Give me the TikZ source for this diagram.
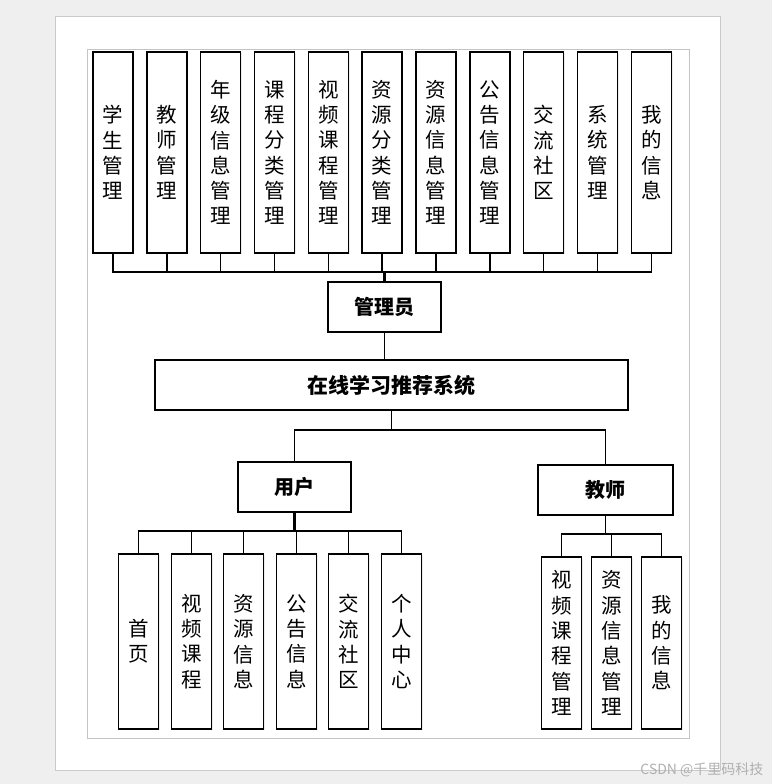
\documentclass[tikz,border=0pt]{standalone}
\usepackage{fontspec}
\setmainfont{Noto Sans CJK SC}
\usetikzlibrary{positioning,shadows}
\definecolor{deskgray}{HTML}{EFEFEF}
\definecolor{pageline}{HTML}{CACACA}
\definecolor{frameline}{HTML}{C4C4C4}
\definecolor{glow}{HTML}{A9B6CC}
\definecolor{marktext}{HTML}{B0B0B0}

\begin{document}
\begin{tikzpicture}[x=1pt,y=-1pt,
  conn/.style={line width=1.2pt, color=black},
  trunk/.style={line width=2.4pt, color=black},
  vbox/.style={draw, line width=1.2pt, fill=white, minimum width=40pt, inner sep=0pt, align=center,
    font=\fontsize{20.5}{25.3}\selectfont,
    drop shadow={fill=glow, opacity=0.25, shadow xshift=1pt, shadow yshift=-1.2pt}},
  hbox/.style={draw, line width=1.2pt, fill=white, minimum height=50pt, inner sep=0pt,
    font=\fontsize{20}{22}\selectfont\bfseries,
    drop shadow={fill=glow, opacity=0.25, shadow xshift=1pt, shadow yshift=-1.2pt}},
]
% page
\fill[deskgray] (0,0) rectangle (772,784);
\useasboundingbox (0,0) rectangle (772,784);
\draw[pageline, fill=white, line width=1pt] (55,17) rectangle (720,770);
\draw[frameline, line width=0.8pt] (87,49) rectangle (689,738);

% admin modules
\foreach \n/\x/\t in {1/113/{学\\生\\管\\理}, 2/167/{教\\师\\管\\理}, 3/220.5/{年\\级\\信\\息\\管\\理},
  4/274.5/{课\\程\\分\\类\\管\\理}, 5/328.5/{视\\频\\课\\程\\管\\理}, 6/382/{资\\源\\分\\类\\管\\理},
  7/436/{资\\源\\信\\息\\管\\理}, 8/490/{公\\告\\信\\息\\管\\理}, 9/543.5/{交\\流\\社\\区},
  10/597.5/{系\\统\\管\\理}, 11/651.5/{我\\的\\信\\息}}
  {\node[vbox, minimum height=201pt] (m\n) at (\x,152.5) {\t};}

\node[hbox, minimum width=113pt] (admin) at (384.5,307) {管理员};
\node[hbox, minimum width=473pt, font=\fontsize{21}{23}\selectfont\bfseries] (sys) at (391.5,385) {在线学习推荐系统};
\node[hbox, minimum width=113pt] (user) at (294.5,487) {用户};
\node[hbox, minimum width=135pt] (teacher) at (605.5,490) {教师};

% user modules
\foreach \n/\x/\t in {1/138.5/{首\\页}, 2/191.5/{视\\频\\课\\程}, 3/243.5/{资\\源\\信\\息},
  4/296.5/{公\\告\\信\\息}, 5/348.5/{交\\流\\社\\区}, 6/401.5/{个\\人\\中\\心}}
  {\node[vbox, minimum height=175pt] (u\n) at (\x,641.5) {\t};}

% teacher modules
\foreach \n/\x/\t in {1/561.5/{视\\频\\课\\程\\管\\理}, 2/611.5/{资\\源\\信\\息\\管\\理}, 3/661.5/{我\\的\\信\\息}}
  {\node[vbox, minimum height=172pt] (t\n) at (\x,643) {\t};}

% buses
\coordinate (abus) at (384.5,272);
\coordinate (sbus) at (391.5,430);
\coordinate (ubus) at (294.5,531);
\coordinate (tbus) at (605.5,534);

\foreach \n in {1,...,11} {\draw[conn] (m\n.south) |- (abus);}
\draw[trunk] (abus) -- (admin.north);
\draw[conn] (admin.south) -- (admin.south |- sys.north);
\draw[conn] (sys.south) -- (sbus);
\draw[conn] (user.north) |- (sbus) -| (teacher.north);
\draw[trunk] (user.south) -- (ubus);
\foreach \n in {1,...,6} {\draw[conn] (u\n.north) |- (ubus);}
\draw[conn, line width=1.8pt] (teacher.south) -- (tbus);
\foreach \n in {1,...,3} {\draw[conn] (t\n.north) |- (tbus);}

% watermark
\node[text=marktext, font=\fontsize{14}{16}\selectfont, anchor=east] (mark) at (767,770) {CSDN @千里码科技};
\end{tikzpicture}
\end{document}
